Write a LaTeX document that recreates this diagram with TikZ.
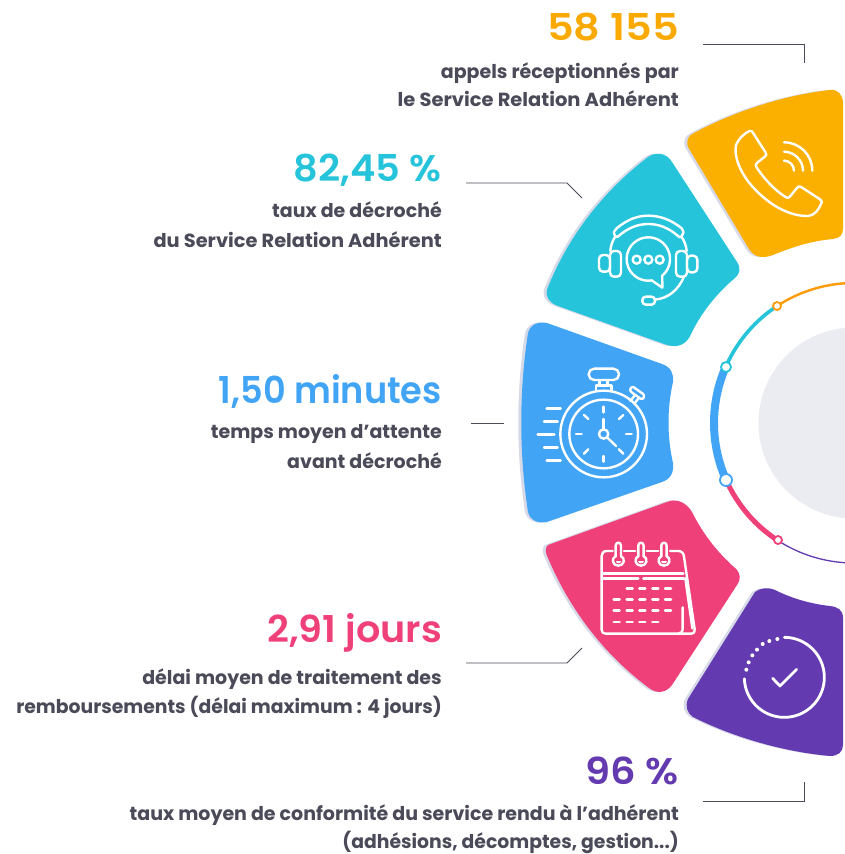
\documentclass[tikz,border=0pt]{standalone}
\usepackage{fontspec}
\setmainfont{Poppins}
\newfontfamily\numfont[UprightFont=* SemiBold]{Poppins}
\definecolor{cy}{HTML}{FBB000}
\definecolor{cyt}{HTML}{FAA900}
\definecolor{ct}{HTML}{26C4DB}
\definecolor{cb}{HTML}{42A4F5}
\definecolor{cp}{HTML}{EF4079}
\definecolor{cv}{HTML}{643AB0}
\definecolor{cs}{HTML}{D6D9E8}
\definecolor{cd}{HTML}{4A4A58}
\definecolor{co}{HTML}{FF9A0A}
\definecolor{cg}{HTML}{EBECF1}
\tikzset{
 icon/.style={white,line width=2.4pt,line cap=round,line join=round},
 lead/.style={cd,line width=0.9pt},
 numtext/.style={anchor=base east,inner sep=0pt,font=\fontsize{37}{37}\selectfont\numfont},
 subtext/.style={anchor=base east,inner sep=0pt,text=cd,font=\fontsize{19}{19}\selectfont\bfseries},
 knob/.style={fill=white,line width=1.8pt}
}
\newcommand{\petalY}{(688,147) .. controls (686,140) and (688,136) .. (694,133) .. controls (735,111) and (785,95) .. (830,90) .. controls (838,89) and (843,95) .. (843,103) -- (843,228) .. controls (843,235) and (840,238) .. (833,239) .. controls (810,241) and (790,248) .. (773,255) .. controls (762,259) and (754,257) .. (749,249) -- cycle}
\newcommand{\petalT}{(648,157) .. controls (655,152) and (666,152) .. (672,162) -- (737,262) .. controls (741,268) and (740,274) .. (735,278) .. controls (717,293) and (702,312) .. (692,332) .. controls (687,345) and (678,348) .. (667,345) -- (558,306) .. controls (549,303) and (544,295) .. (548,287) .. controls (570,233) and (605,190) .. (648,157) -- cycle}
\newcommand{\petalB}{(528,333) .. controls (530,325) and (538,321) .. (547,323) -- (662,364) .. controls (671,367) and (674,374) .. (673,382) .. controls (667,408) and (667,437) .. (673,463) .. controls (674,472) and (671,479) .. (662,482) -- (547,522) .. controls (538,524) and (530,520) .. (528,512) .. controls (519,453) and (519,392) .. (528,333) -- cycle}
\newcommand{\petalP}{(548,545) -- (667,502) .. controls (676,498) and (686,502) .. (692,512) .. controls (703,534) and (717,552) .. (735,568) .. controls (741,573) and (741,580) .. (737,585) -- (672,685) .. controls (666,693) and (657,694) .. (649,688) .. controls (605,655) and (571,612) .. (548,558) .. controls (545,552) and (545,548) .. (548,545) -- cycle}
\newcommand{\petalV}{(755,592) .. controls (760,588) and (768,587) .. (775,590) .. controls (793,599) and (812,604) .. (830,606) .. controls (838,607) and (843,610) .. (843,618) -- (843,745) .. controls (843,752) and (838,756) .. (830,756) .. controls (785,752) and (735,738) .. (693,717) .. controls (687,713) and (685,706) .. (688,699) -- cycle}
\begin{document}
\begin{tikzpicture}[x=1pt,y=-1pt]
\useasboundingbox (0,0) rectangle (845,854);
\fill[white] (0,0) rectangle (845,854);
% central disc and ring
\begin{scope}
\clip (0,0) rectangle (845,854);
\fill[cg] (854,423) circle[radius=95.5];
\draw[co,line width=2.4pt,domain=236.6:268,samples=30] plot ({854+140*cos(\x)},{423+140*sin(\x)});
\draw[ct,line width=3.6pt,domain=203.6:236.6,samples=30] plot ({854+140*cos(\x)},{423+140*sin(\x)});
\draw[cb,line width=8pt,domain=156:203.6,samples=30] plot ({854+140*cos(\x)},{423+140*sin(\x)});
\draw[cp,line width=5pt,domain=123:156,samples=30] plot ({854+140*cos(\x)},{423+140*sin(\x)});
\draw[cv,line width=1.3pt,domain=92:123,samples=30] plot ({854+140*cos(\x)},{423+140*sin(\x)});
\node[circle,draw=co,knob,inner sep=0pt,minimum size=8pt] (k1) at (777,306) {};
\node[circle,draw=ct,knob,inner sep=0pt,minimum size=10pt] (k2) at (726,367) {};
\node[circle,draw=cb,knob,inner sep=0pt,minimum size=12pt] (k3) at (726,480) {};
\node[circle,draw=cp,knob,inner sep=0pt,minimum size=8pt] (k4) at (778,540) {};
\end{scope}
% petals
\begin{scope}[xshift=-3pt]
\fill[cs] \petalY; \fill[cs] \petalT; \fill[cs] \petalB; \fill[cs] \petalP; \fill[cs] \petalV;
\end{scope}
\fill[cy] \petalY;
\fill[ct] \petalT;
\fill[cb] \petalB;
\fill[cp] \petalP;
\fill[cv] \petalV;
% phone
\begin{scope}[shift={(660,80)},scale=1/3,icon]
\draw (228,195) .. controls (240,170) and (255,160) .. (268,153) .. controls (275,152) .. (280,160) -- (317,218) .. controls (320,225) .. (312,232) -- (293,247) .. controls (285,255) .. (295,270) .. controls (320,305) and (345,330) .. (375,350) .. controls (385,355) .. (392,347) -- (410,325) .. controls (415,318) .. (425,322) -- (480,358) .. controls (487,365) .. (483,372) .. controls (475,390) and (465,405) .. (445,408) .. controls (370,410) and (300,350) .. (265,305) .. controls (235,265) and (222,225) .. (228,195) -- cycle;
\draw (372,242) .. controls (388.5,242) and (402,255.5) .. (402,272);
\draw (372,215) .. controls (403,215) and (429,241) .. (429,272);
\draw (372,187) .. controls (419,187) and (457,225) .. (457,272);
\end{scope}
% headset
\begin{scope}[shift={(535,145)},scale=1/3,icon]
\draw (240,272) .. controls (235,262) .. (245,250) .. controls (275,225) and (305,212) .. (340,212) .. controls (375,212) and (410,225) .. (440,250) .. controls (447,262) .. (440,273) .. controls (436,278) .. (428,272) .. controls (400,248) and (370,237) .. (340,237) .. controls (310,237) and (280,248) .. (252,272) .. controls (247,278) .. (240,272) -- cycle;
\draw (240,276) .. controls (232,288) and (227,303) .. (226,318);
\draw (440,276) .. controls (448,288) and (454,303) .. (455,318);
\draw (447,395) .. controls (430,435) and (400,460) .. (360,464);
\draw[rounded corners=3.5pt] (322,455) rectangle (360,479);
\draw[rounded corners=4pt] (225,318) rectangle (258,395);
\draw[rounded corners=4pt] (192,330) rectangle (225,380);
\draw[rounded corners=4pt] (423,318) rectangle (456,395);
\draw[rounded corners=4pt] (456,332) rectangle (487,382);
\draw[domain=50:-279,samples=60] plot ({340+65*cos(\x)},{342+65*sin(\x)}) -- (382,428) -- cycle;
\draw (305,344) circle[radius=12];
\draw (340,344) circle[radius=12];
\draw (374,344) circle[radius=12];
\end{scope}
% stopwatch
\begin{scope}[shift={(510,315)},scale=1/3,icon]
\draw (281,357) circle[radius=130];
\draw (281,357) circle[radius=103];
\draw (281,357) circle[radius=14];
\draw (281,312) -- (281,343);
\draw (291,367) -- (318,393);
\draw (281,275) -- (281,292);
\draw (281,423) -- (281,440);
\draw (198,357) -- (215,357);
\draw (348,357) -- (365,357);
\draw (222,300) -- (235,312);
\draw (340,300) -- (327,312);
\draw (222,416) -- (235,403);
\draw (340,416) -- (327,403);
\draw[rounded corners=5.5pt] (236,161) rectangle (327,195);
\draw (268,195) -- (268,212);
\draw (293,195) -- (293,212);
\draw (258,228) -- (258,212) -- (304,212) -- (304,228);
\draw[rounded corners=2.5pt] (366,213) -- (405,241) -- (397,255) -- (358,227) -- cycle;
\draw (375,240) -- (361,258);
\draw (387,248) -- (373,266);
\draw (110,281) -- (152,281);
\draw (102,320) -- (143,320);
\draw (83,358) -- (133,358);
\draw (102,397) -- (143,397);
\draw (110,436) -- (152,436);
\end{scope}
% calendar
\begin{scope}[shift={(535,490)},scale=1/3,icon]
\draw (233,183) -- (215,183) .. controls (205,183) and (200,190) .. (200,198) -- (200,420) .. controls (200,427) and (205,431) .. (212,431) -- (470,431) .. controls (477,431) and (480,425) .. (479,418) -- (447,200) .. controls (446,190) and (440,183) .. (430,183) -- (405,183);
\draw (267,183) -- (301,183);
\draw (335,183) -- (370,183);
\draw (203,250) -- (445,250);
\draw (205,265) -- (310,265);
\draw (325,265) -- (447,265);
\draw (451,265) -- (472,415);
\draw (443,352) -- (443,415) .. controls (443,425) and (438,431) .. (430,431);
\foreach \cx in {250,318,387}{
 \draw (\cx-8,200) -- (\cx-8,167) .. controls (\cx-8,155) and (\cx+8,155) .. (\cx+8,167) -- (\cx+8,200);
 \draw (\cx-8,198) .. controls (\cx-22,205) and (\cx-18,227) .. (\cx,227) .. controls (\cx+18,227) and (\cx+22,205) .. (\cx+8,198);
 \fill (\cx-8,212) .. controls (\cx-8,222) and (\cx+8,222) .. (\cx+8,212) -- cycle;
}
\foreach \dy/\xs in {295/{275,313,352,390},328/{236,275,313,352,390},362/{236,275,313,352,390},396/{236,275,313,352}}{
 \foreach \dx in \xs { \draw (\dx,\dy) -- (\dx+18,\dy); }
}
\end{scope}
% check
\begin{scope}[shift={(670,580)},scale=1/3,icon]
\draw[line width=2.8pt,domain=-90:178,samples=60] plot ({343+120*cos(\x)},{292+120*sin(\x)});
\foreach \px/\py/\pr in {322/177/6,298/183/6,278/192/6,261/209/6,247/226/6,236/247/6,229/269/6}{
 \fill (\px,\py) circle[radius=\pr];
}
\draw[line width=2.8pt] (308,295) -- (330,318) -- (380,268);
\end{scope}
% leaders
\coordinate (a1) at (703,44); \coordinate (a2) at (804,44); \coordinate (a3) at (804,63);
\coordinate (b1) at (466,183); \coordinate (b2) at (567,183); \coordinate (b3) at (582,198);
\coordinate (c1) at (471,423); \coordinate (c2) at (504,423);
\coordinate (d1) at (466,663); \coordinate (d2) at (567,663); \coordinate (d3) at (582,648);
\coordinate (e1) at (703,801); \coordinate (e2) at (804,801); \coordinate (e3) at (804,782);
\draw[lead] (a1) -- (a2) -- (a3);
\draw[lead] (b1) -- (b2) -- (b3);
\draw[lead] (c1) -- (c2);
\draw[lead] (d1) -- (d2) -- (d3);
\draw[lead] (e1) -- (e2) -- (e3);
% text
\node[numtext,text=cyt] (n1) at (679,40) {\scalebox{1.12}[1]{58 155}};
\node[subtext] (s1a) at (679,78) {appels réceptionnés par};
\node[subtext] (s1b) at (679,106) {\scalebox{1.025}[1]{le Service Relation Adhérent}};
\node[numtext,text=ct] (n2) at (442,181) {\scalebox{1.04}[1]{82,45 \%}};
\node[subtext] (s2a) at (442,217) {taux de décroché};
\node[subtext] (s2b) at (442,247) {\scalebox{1.02}[1]{du Service Relation Adhérent}};
\node[numtext,text=cb] (n3) at (442,403) {\scalebox{0.95}[1]{1,50 minutes}};
\node[subtext] (s3a) at (442,438) {temps moyen d’attente};
\node[subtext] (s3b) at (442,468) {avant décroché};
\node[numtext,text=cp] (n4) at (442,642) {\scalebox{1.03}[1]{2,91 jours}};
\node[subtext] (s4a) at (442,684) {délai moyen de traitement des};
\node[subtext] (s4b) at (442,713) {\scalebox{0.99}[1]{remboursements (délai maximum : 4 jours)}};
\node[numtext,text=cv] (n5) at (679,784) {\scalebox{1.08}[1]{96 \%}};
\node[subtext] (s5a) at (679,820) {taux moyen de conformité du service rendu à l’adhérent};
\node[subtext] (s5b) at (679,848) {\scalebox{0.99}[1]{(adhésions, décomptes, gestion...)}};
\end{tikzpicture}
\end{document}
